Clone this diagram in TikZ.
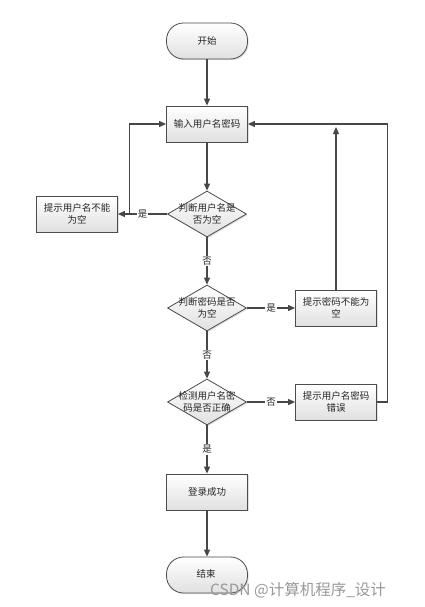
\documentclass[tikz,border=0pt]{standalone}
\usepackage{fontspec}
\newfontfamily\cjk{Noto Sans CJK SC}
\usetikzlibrary{shapes.geometric,arrows.meta,calc,shadows}
\begin{document}
\begin{tikzpicture}[x=1pt,y=-1pt,
  every node/.style={font=\cjk\fontsize{9.5}{12}\selectfont, text=black!85},
  boxshade/.style={draw=black!70, line width=0.8pt, top color=white, bottom color=black!12,
     drop shadow={shadow xshift=1.2pt, shadow yshift=-1.2pt, opacity=0.25}},
  procbox/.style={boxshade, rectangle, minimum width=81pt, minimum height=36pt, inner sep=1pt, align=center, text width=76pt},
  termbox/.style={boxshade, rectangle, rounded corners=17pt, minimum width=81pt, minimum height=36pt},
  decbox/.style={boxshade, diamond, minimum width=79pt, minimum height=46pt, inner sep=0pt},
  dtext/.style={align=center, inner sep=0pt},
  conn/.style={draw=black!72, line width=1.1pt, -{Triangle[length=7pt,width=6pt]}},
  plain/.style={draw=black!72, line width=1.1pt},
  lbl/.style={fill=white, inner sep=1pt}
]
\useasboundingbox (0,0) rectangle (425,607);
\fill[white] (0,0) rectangle (425,607);

\node[termbox] (start) at (207,41) {开始};
\node[procbox] (input) at (207,124) {输入用户名密码};
\node[decbox] (d1) at (207,214) {};
\node[dtext] (t1) at (d1) {判断用户名是\\否为空};
\node[procbox] (p1) at (77,214) {提示用户名不能\\为空};
\node[decbox] (d2) at (207,308) {};
\node[dtext] (t2) at (d2) {判断密码是否\\为空};
\node[procbox] (p2) at (336,308) {提示密码不能为\\空};
\node[decbox] (d3) at (207,402) {};
\node[dtext] (t3) at (d3) {检测用户名密\\码是否正确};
\node[procbox] (p3) at (336,402) {提示用户名密码\\错误};
\node[procbox] (ok) at (207,492) {登录成功};
\node[termbox] (end) at (207,575) {};
\node[inner sep=0pt] (endt) at (206,574) {结束};

\coordinate (lk) at ($(p1.east)+(12,0)$);
\coordinate (rk) at ($(p3.east)+(11,0)$);

\draw[conn] (start) -- (input);
\draw[conn] (input) -- (d1);
\draw[conn] (d1.west) -- node[lbl] (l1) {是} (p1.east);
\draw[conn] (lk) |- (input.west);
\draw[conn] (d1.south) -- node[lbl] (l2) {否} (d2.north);
\draw[conn] (d2.east) -- node[lbl] (l3) {是} (p2.west);
\draw[conn, shorten >=3pt] (p2.north) -- (p2.north |- input.east);
\draw[conn] (d2.south) -- node[lbl] (l4) {否} (d3.north);
\draw[conn] (d3.east) -- node[lbl] (l5) {否} (p3.west);
\draw[plain] (p3.east) -- (rk);
\draw[conn] (rk) |- (input.east);
\draw[conn] (d3.south) -- node[lbl] (l6) {是} (ok.north);
\draw[conn] (ok) -- (end);

\node[font=\cjk\fontsize{15.5}{17}\selectfont, text=black!40, inner sep=0pt] (wm) at (298,590) {CSDN @计算机程序\_设计};
\end{tikzpicture}
\end{document}
